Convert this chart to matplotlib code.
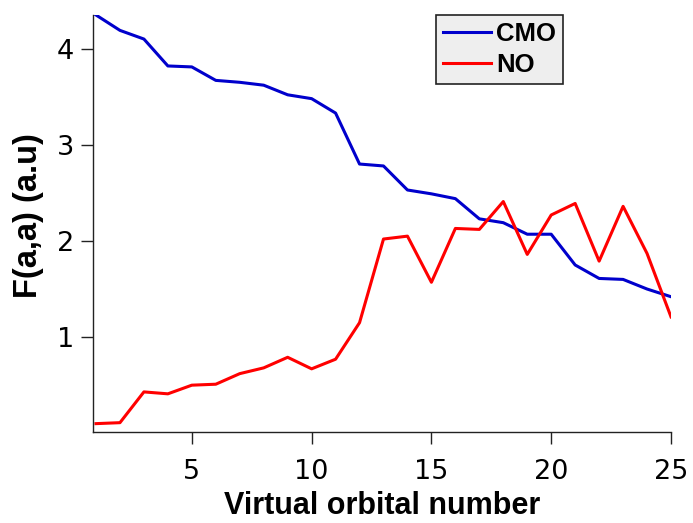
import matplotlib
matplotlib.use("Agg")
import matplotlib.pyplot as plt

orbital = list(range(1, 26))
cmo = [4.35, 4.19, 4.10, 3.82, 3.81, 3.67, 3.65, 3.62, 3.52, 3.48, 3.33,
       2.80, 2.78, 2.53, 2.49, 2.44, 2.23, 2.19, 2.07, 2.07, 1.75, 1.61,
       1.60, 1.50, 1.42]
no = [0.10, 0.11, 0.43, 0.41, 0.50, 0.51, 0.62, 0.68, 0.79, 0.67, 0.77,
      1.15, 2.02, 2.05, 1.57, 2.13, 2.12, 2.41, 1.86, 2.27, 2.39, 1.79,
      2.36, 1.87, 1.21]
xticks = [5, 10, 15, 20, 25]
yticks = [1, 2, 3, 4]

fig = plt.figure(figsize=(6.93, 5.23), dpi=100)
ax = fig.add_axes([93/693, 1-432/523, (671-93)/693, (432-15)/523])

ax.plot(orbital, cmo, color='#0000cc', lw=2.2, label='CMO', solid_joinstyle='round')
ax.plot(orbital, no, color='#ff0000', lw=2.2, label='NO', solid_joinstyle='round')

ax.set_xlim(0.875, 25)
ax.set_ylim(0.013, 4.35)
ax.set_xticks(xticks)
ax.set_yticks(yticks)
for s in ['top', 'right']:
    ax.spines[s].set_visible(False)
for s in ['left', 'bottom']:
    ax.spines[s].set_linewidth(1.0)
    ax.spines[s].set_color('#222222')
ax.tick_params(direction='out', length=8.5, width=1.0, color='#222222',
               labelsize=19.5)
ax.tick_params(axis='y', pad=5)
ax.tick_params(axis='x', pad=11)
for lab in ax.get_xticklabels() + ax.get_yticklabels():
    lab.set_family('DejaVu Sans')

ax.set_xlabel('Virtual orbital number', fontsize=22, fontweight='bold',
              family='Liberation Sans', labelpad=4.5)
ax.set_ylabel('F(a,a) (a.u)', fontsize=23.5, fontweight='bold',
              family='Liberation Sans')
ax.yaxis.set_label_coords(-0.085, 0.52)

leg = ax.legend(loc='upper left', bbox_to_anchor=((436-93)/578, 1.0),
                prop={'family': 'Liberation Sans', 'weight': 'bold', 'size': 18.5},
                frameon=True, fancybox=False, framealpha=1.0,
                handlelength=1.85, handletextpad=0.2, borderpad=0.28,
                labelspacing=0.25, borderaxespad=0.0)
leg.get_frame().set_facecolor('#eeeeee')
leg.get_frame().set_edgecolor('#222222')
leg.get_frame().set_linewidth(1.2)

fig.savefig('out.png', dpi=100)
